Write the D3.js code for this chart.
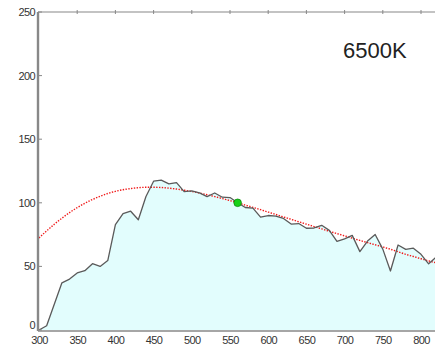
<!DOCTYPE html>
<html>
<head>
<meta charset="utf-8">
<script src="https://cdn.jsdelivr.net/npm/d3@7"></script>
<style>
  body { margin: 0; background: #fff; }
  svg { display: block; }
</style>
</head>
<body>
<script>
// wavelengths (nm), 10 nm steps
const wavelengths = [
  300, 310, 320, 330, 340, 350, 360, 370, 380, 390,
  400, 410, 420, 430, 440, 450, 460, 470, 480, 490,
  500, 510, 520, 530, 540, 550, 560, 570, 580, 590,
  600, 610, 620, 630, 640, 650, 660, 670, 680, 690,
  700, 710, 720, 730, 740, 750, 760, 770, 780, 790,
  800, 810, 820, 830,
];

// measured spectrum (gray line, filled)
const spectrum = [
  0.0, 3.3, 20.2, 37.1, 40.0, 44.9, 46.6, 52.1, 50.0, 54.6,
  82.8, 91.5, 93.4, 86.7, 104.9, 117.0, 117.8, 114.9, 115.9, 108.8,
  109.4, 107.8, 104.8, 107.7, 104.4, 104.1, 100.0, 96.3, 95.8, 88.7,
  90.0, 89.6, 87.7, 83.3, 83.7, 80.0, 80.2, 82.3, 78.3, 69.7,
  71.6, 74.4, 61.6, 69.9, 75.1, 63.6, 46.4, 66.8, 63.4, 64.3,
  59.5, 52.0, 57.4, 60.3,
];

// reference curve (red dotted)
const reference = [
  72.4, 77.9, 83.1, 87.9, 92.3, 96.2, 99.6, 102.6, 105.1, 107.3,
  109.0, 110.3, 111.2, 111.9, 112.2, 112.2, 112.0, 111.5, 110.8, 109.9,
  108.9, 107.7, 106.3, 104.9, 103.3, 101.7, 100.0, 98.2, 96.4, 94.6,
  92.7, 90.8, 88.9, 87.0, 85.1, 83.2, 81.3, 79.5, 77.6, 75.8,
  74.0, 72.2, 70.4, 68.7, 67.0, 65.3, 63.5, 61.5, 59.5, 57.8,
  56.0, 54.3, 52.8, 51.3,
];

const markerPoint = { x: 560, y: 100 };
const label = "6500K";
const xTicks = [300, 350, 400, 450, 500, 550, 600, 650, 700, 750, 800];
const yTicks = [0, 50, 100, 150, 200, 250];

const width = 435, height = 354;
const plotLeft = 38, plotTop = 12, plotBottom = 330;

const x = d3.scaleLinear().domain([300, 830]).range([plotLeft + 1, plotLeft + 1 + 530 * 0.764]);
const y = d3.scaleLinear().domain([0, 250]).range([plotBottom, plotTop]);

const svg = d3.select("body").append("svg")
  .attr("width", width)
  .attr("height", height)
  .attr("viewBox", [0, 0, width, height]);

svg.append("defs").append("clipPath").attr("id", "plot")
  .append("rect")
  .attr("x", plotLeft).attr("y", plotTop)
  .attr("width", width - plotLeft).attr("height", plotBottom - plotTop);

const pts = wavelengths.map((w, i) => ({ w, s: spectrum[i], r: reference[i] }));

const g = svg.append("g").attr("clip-path", "url(#plot)");

// filled area under spectrum
g.append("path")
  .datum(pts)
  .attr("fill", "#e2fdfd")
  .attr("d", d3.area().x((d) => x(d.w)).y0(y(0)).y1((d) => y(d.s)));

// reference curve
g.append("path")
  .datum(pts)
  .attr("fill", "none")
  .attr("stroke", "#f01818")
  .attr("stroke-width", 1.4)
  .attr("stroke-dasharray", "1.4,1.4")
  .attr("d", d3.line().x((d) => x(d.w)).y((d) => y(d.r)).curve(d3.curveMonotoneX));

// spectrum line
g.append("path")
  .datum(pts)
  .attr("fill", "none")
  .attr("stroke", "#5a5a5a")
  .attr("stroke-width", 1.3)
  .attr("stroke-linejoin", "round")
  .attr("d", d3.line().x((d) => x(d.w)).y((d) => y(d.s)));

// marker
g.append("circle")
  .attr("cx", x(markerPoint.x))
  .attr("cy", y(markerPoint.y))
  .attr("r", 3.8)
  .attr("fill", "#18d018")
  .attr("stroke", "#0a8a0a")
  .attr("stroke-width", 0.8);

// axes
const axisColor = "#888";
const tickFont = "11px 'Liberation Sans', Arial, sans-serif";

const xAxis = svg.append("g")
  .attr("transform", `translate(0,${plotBottom + 1})`)
  .call(d3.axisBottom(x).tickValues(xTicks).tickSize(0).tickPadding(5));
xAxis.select(".domain").remove();
xAxis.selectAll("text")
  .style("font", tickFont)
  .attr("fill", "#333")
  .attr("letter-spacing", "-0.6");

const yAxis = svg.append("g")
  .attr("transform", `translate(${plotLeft - 3},0)`)
  .call(d3.axisLeft(y).tickValues(yTicks).tickSize(0).tickPadding(0));
yAxis.select(".domain").remove();
yAxis.selectAll("text")
  .style("font", tickFont)
  .attr("fill", "#333")
  .attr("letter-spacing", "-0.6");
// lift the "0" label so it clears the "300" below it
yAxis.selectAll(".tick").filter((d) => d === 0).select("text").attr("dy", "-0.1em");

// frame lines
svg.append("line")
  .attr("x1", plotLeft).attr("x2", width)
  .attr("y1", plotBottom + 1).attr("y2", plotBottom + 1)
  .attr("stroke", axisColor).attr("stroke-width", 1.6);
svg.append("line")
  .attr("x1", plotLeft).attr("x2", width)
  .attr("y1", plotTop).attr("y2", plotTop)
  .attr("stroke", axisColor).attr("stroke-width", 1.2);
svg.append("line")
  .attr("x1", plotLeft).attr("x2", plotLeft)
  .attr("y1", plotTop).attr("y2", plotBottom + 1)
  .attr("stroke", axisColor).attr("stroke-width", 2.4);

// small tick marks
svg.append("g").selectAll("line")
  .data(yTicks)
  .join("line")
  .attr("x1", plotLeft).attr("x2", plotLeft + 4)
  .attr("y1", (d) => y(d)).attr("y2", (d) => y(d))
  .attr("stroke", axisColor);
svg.append("g").selectAll("line")
  .data(xTicks.slice(1))
  .join("line")
  .attr("x1", (d) => x(d)).attr("x2", (d) => x(d))
  .attr("y1", plotTop - 2).attr("y2", plotTop + 2)
  .attr("stroke", axisColor);

// temperature label
svg.append("text")
  .attr("x", 343)
  .attr("y", 58)
  .attr("fill", "#222")
  .style("font", "22px 'Liberation Sans', Arial, sans-serif")
  .text(label);
</script>
</body>
</html>
